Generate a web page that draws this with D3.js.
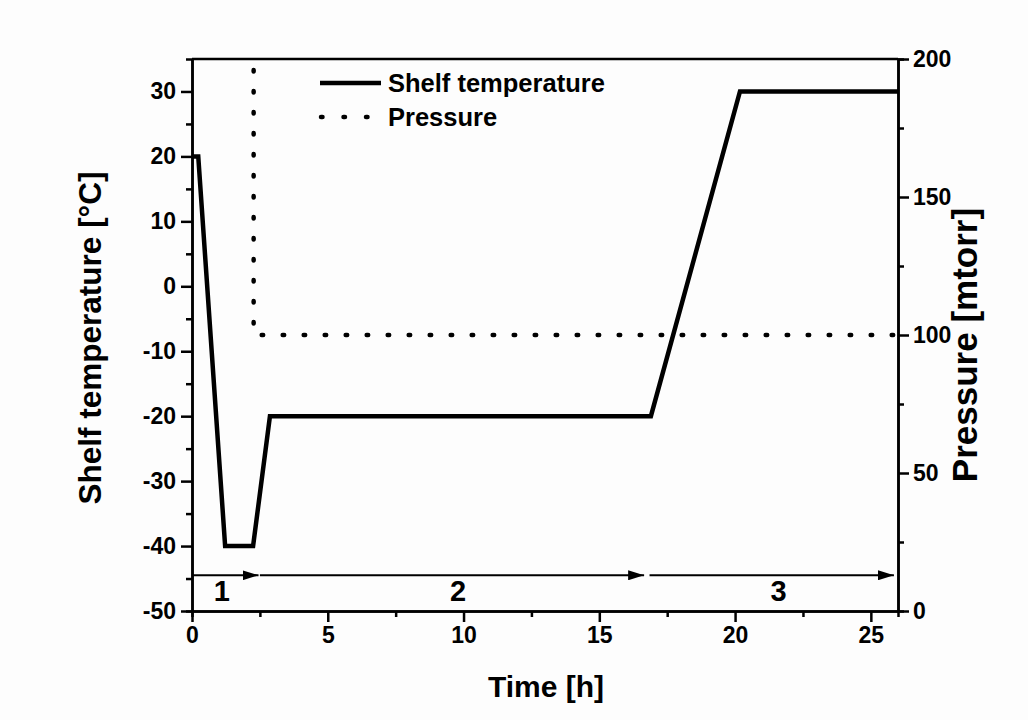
<!DOCTYPE html>
<html>
<head>
<meta charset="utf-8">
<script src="https://cdn.jsdelivr.net/npm/d3@7"></script>
<style>
	body { margin: 0; background: #fdfdfd; }
	text { font-family: "Liberation Sans", Arial, sans-serif; font-weight: bold; fill: #000; }
	.axis path, .axis line { stroke: #000; stroke-width: 2.5; }
</style>
</head>
<body>
<script>
//data
var tempTime = [0, 0.23, 1.22, 2.25, 2.87, 16.9, 20.18, 26];
var tempValues = [20, 20, -40, -40, -20, -20, 30, 30];
var pressTime = [2.27, 2.27, 26];
var pressValues = [196, 100, 100];
var xTicks = [0, 5, 10, 15, 20, 25];
var yTicks = [-50, -40, -30, -20, -10, 0, 10, 20, 30];
var pTicks = [0, 50, 100, 150, 200];
var phaseStart = [0, 2.5, 16.85];
var phaseEnd = [2.45, 16.65, 25.85];
var phaseLabels = ["1", "2", "3"];
var phaseLabelAt = [1.1, 9.8, 21.6];

window.onload = function(){

	var w = 1028, h = 720;
	var left = 192, right = 898, top = 59, bottom = 611;

	var svg = d3.select("body").append("svg")
		.attr("width", w)
		.attr("height", h);

	var x = d3.scaleLinear().domain([0, 26]).range([left, right]);
	var y = d3.scaleLinear().domain([-50, 35]).range([bottom, top]);
	var yP = d3.scaleLinear().domain([0, 200]).range([bottom, top]);

	var plain = function(d){ return String(d); }; //hyphen minus like the original

	//minor tick positions
	function minor(from, to, step){
		var out = [];
		for (var v = from; v <= to + 1e-9; v += step) out.push(v);
		return out;
	}

	//bold tick labels, bigger than d3's default
	function big(g){
		g.attr("font-size", null).attr("font-family", null);
		g.selectAll("text")
			.style("font-size", "23px")
			.style("font-weight", "bold")
			.style("font-family", "'Liberation Sans', Arial, sans-serif");
	}

	svg.append("g").attr("class", "axis")
		.attr("transform", "translate(0," + bottom + ")")
		.call(d3.axisBottom(x).tickValues(minor(2.5, 22.5, 5)).tickSize(6).tickFormat(""));
	svg.append("g").attr("class", "axis")
		.attr("transform", "translate(0," + bottom + ")")
		.call(d3.axisBottom(x).tickValues(xTicks).tickSize(11).tickPadding(4).tickSizeOuter(0).tickFormat(plain))
		.call(big)
		.selectAll("text").attr("dy", "0.75em");

	svg.append("g").attr("class", "axis")
		.attr("transform", "translate(" + left + ",0)")
		.call(d3.axisLeft(y).tickValues(minor(-45, 25, 10)).tickSize(6).tickFormat(""));
	svg.append("g").attr("class", "axis")
		.attr("transform", "translate(" + left + ",0)")
		.call(d3.axisLeft(y).tickValues(yTicks).tickSize(11).tickPadding(5).tickSizeOuter(0).tickFormat(plain))
		.call(big);

	svg.append("g").attr("class", "axis")
		.attr("transform", "translate(" + right + ",0)")
		.call(d3.axisRight(yP).tickValues(minor(25, 175, 50)).tickSize(6).tickFormat(""));
	svg.append("g").attr("class", "axis")
		.attr("transform", "translate(" + right + ",0)")
		.call(d3.axisRight(yP).tickValues(pTicks).tickSize(11).tickPadding(4).tickSizeOuter(0).tickFormat(plain))
		.call(big);

	//top frame line
	svg.append("line")
		.attr("x1", left).attr("x2", right)
		.attr("y1", top).attr("y2", top)
		.style("stroke", "#000").style("stroke-width", 2.5);

	//shelf temperature
	var line = d3.line()
		.x(function(d){ return x(d[0]); })
		.y(function(d){ return y(d[1]); });
	svg.append("path")
		.datum(d3.zip(tempTime, tempValues))
		.attr("d", line)
		.style("fill", "none")
		.style("stroke", "#000")
		.style("stroke-width", 4.5);

	//pressure, dotted
	var pLine = d3.line()
		.x(function(d){ return x(d[0]); })
		.y(function(d){ return yP(d[1]); });
	svg.append("path")
		.datum(d3.zip(pressTime, pressValues))
		.attr("d", pLine)
		.style("fill", "none")
		.style("stroke", "#000")
		.style("stroke-width", 4.5)
		.style("stroke-linecap", "round")
		.style("stroke-dasharray", "1.5,19.5");

	//phase arrows
	svg.append("defs").append("marker")
		.attr("id", "head")
		.attr("viewBox", "0 0 16 10")
		.attr("refX", 16).attr("refY", 5)
		.attr("markerWidth", 16).attr("markerHeight", 10)
		.attr("markerUnits", "userSpaceOnUse")
		.attr("orient", "auto")
		.append("path")
		.attr("d", "M0,0 L16,5 L0,10 Z")
		.style("fill", "#000");

	var arrowY = y(-44.5);
	svg.selectAll(".phase")
		.data(phaseStart)
		.enter()
		.append("line")
		.attr("class", "phase")
		.attr("x1", function(d){ return x(d); })
		.attr("x2", function(d, i){ return x(phaseEnd[i]); })
		.attr("y1", arrowY).attr("y2", arrowY)
		.style("stroke", "#000")
		.style("stroke-width", 2)
		.attr("marker-end", "url(#head)");

	svg.selectAll(".phaseLabel")
		.data(phaseLabels)
		.enter()
		.append("text")
		.attr("class", "phaseLabel")
		.attr("x", function(d, i){ return x(phaseLabelAt[i]); })
		.attr("y", y(-47.3))
		.attr("text-anchor", "middle")
		.attr("dominant-baseline", "middle")
		.style("font-size", "29px")
		.text(function(d){ return d; });

	//legend
	svg.append("line")
		.attr("x1", 320).attr("x2", 381)
		.attr("y1", 83).attr("y2", 83)
		.style("stroke", "#000").style("stroke-width", 4.5);
	svg.append("line")
		.attr("x1", 321).attr("x2", 368)
		.attr("y1", 117).attr("y2", 117)
		.style("stroke", "#000").style("stroke-width", 4.5)
		.style("stroke-linecap", "round")
		.style("stroke-dasharray", "1.5,21");
	svg.append("text").attr("x", 388).attr("y", 92)
		.style("font-size", "25.5px").text("Shelf temperature");
	svg.append("text").attr("x", 388).attr("y", 126)
		.style("font-size", "25.5px").text("Pressure");

	//axis titles
	svg.append("text")
		.attr("x", 546)
		.attr("y", 697)
		.attr("text-anchor", "middle")
		.style("font-size", "30px")
		.text("Time [h]");
	svg.append("text")
		.attr("transform", "translate(101,338) rotate(-90)")
		.attr("text-anchor", "middle")
		.style("font-size", "31.5px")
		.text("Shelf temperature [°C]");
	svg.append("text")
		.attr("transform", "translate(977,345) rotate(-90)")
		.attr("text-anchor", "middle")
		.style("font-size", "35px")
		.text("Pressure [mtorr]");
};
</script>
</body>
</html>
